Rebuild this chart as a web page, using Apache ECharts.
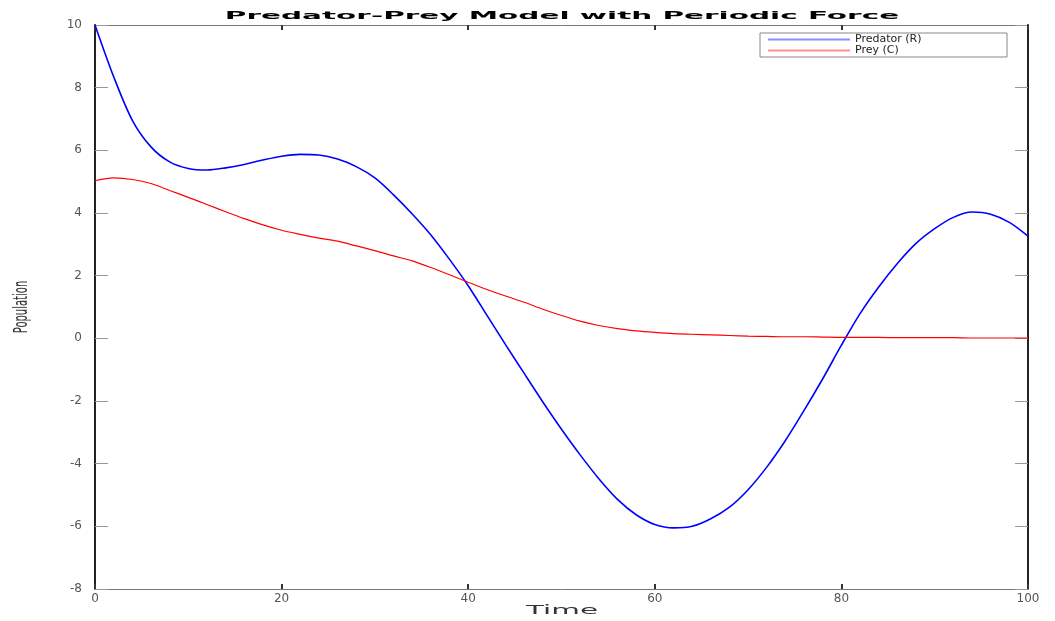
<!DOCTYPE html>
<html>
<head>
<meta charset="utf-8">
<script src="https://cdn.jsdelivr.net/npm/echarts@6/dist/echarts.min.js"></script>
<style>
html,body{margin:0;padding:0;background:#fff;}
#chart{width:1055px;height:621px;}
</style>
</head>
<body>
<div id="chart"></div>
<script>
const titleText = 'Predator-Prey Model with Periodic Force';
const xName = 'Time';
const yName = 'Population';
const seriesNames = ['Predator (R)', 'Prey (C)'];
const xTicks = [0, 20, 40, 60, 80, 100];
const yTicks = [-8, -6, -4, -2, 0, 2, 4, 6, 8, 10];

const time = [0,2,4,6,8,10,12,14,16,18,20,22,24,26,28,30,32,34,36,38,40,42,44,46,48,50,52,54,56,58,60,62,64,66,68,70,72,74,76,78,80,82,84,86,88,90,92,94,96,98,100];

const predator = [10,8.35,6.96,6.11,5.63,5.42,5.37,5.44,5.55,5.69,5.81,5.87,5.85,5.72,5.48,5.12,4.58,3.97,3.3,2.52,1.68,0.74,-0.2,-1.12,-2.03,-2.9,-3.72,-4.48,-5.14,-5.63,-5.94,-6.05,-6.0,-5.76,-5.39,-4.83,-4.11,-3.26,-2.3,-1.29,-0.22,0.79,1.64,2.39,3.03,3.5,3.86,4.03,3.96,3.7,3.26];

const prey = [5.03,5.12,5.07,4.94,4.72,4.5,4.27,4.04,3.82,3.62,3.45,3.32,3.2,3.1,2.95,2.8,2.63,2.47,2.26,2.03,1.79,1.56,1.35,1.15,0.93,0.73,0.55,0.41,0.31,0.24,0.19,0.15,0.13,0.11,0.09,0.07,0.06,0.05,0.05,0.04,0.03,0.03,0.03,0.02,0.02,0.02,0.02,0.01,0.01,0.01,0.01];

const chart = echarts.init(document.getElementById('chart'), null, {renderer: 'canvas'});

const grid = {left: 95, right: 27, top: 25, bottom: 32};
const labelFont = {fontFamily: 'DejaVu Sans', fontSize: 12, color: '#555'};

const xBase = {
  type: 'value', min: xTicks[0], max: xTicks[xTicks.length - 1], interval: 20,
  splitLine: {show: false}
};
const yBase = {
  type: 'value', min: yTicks[0], max: yTicks[yTicks.length - 1], interval: 2,
  splitLine: {show: false}
};

chart.setOption({
  animation: false,
  backgroundColor: '#fff',
  grid: grid,
  legend: {
    right: 48, top: 33, orient: 'vertical',
    itemWidth: 82, itemHeight: 2, itemGap: 0,
    padding: [1, 8, 1, 8],
    borderColor: '#888', borderWidth: 1,
    icon: 'rect',
    textStyle: {fontFamily: 'DejaVu Sans', fontSize: 11, color: '#222', lineHeight: 10, width: 144},
    data: [
      {name: seriesNames[0], itemStyle: {color: '#8c8cff'}},
      {name: seriesNames[1], itemStyle: {color: '#ff9090'}}
    ]
  },
  xAxis: [
    Object.assign({}, xBase, {
      position: 'bottom',
      axisLine: {onZero: false, lineStyle: {color: '#777', width: 1}},
      axisTick: {inside: true, length: 5, lineStyle: {color: '#333', width: 2}},
      axisLabel: Object.assign({margin: 4}, labelFont)
    }),
    Object.assign({}, xBase, {
      position: 'top',
      axisLine: {onZero: false, lineStyle: {color: '#777', width: 1}},
      axisTick: {inside: true, length: 5, lineStyle: {color: '#333', width: 2}},
      axisLabel: {show: false}
    })
  ],
  yAxis: [
    Object.assign({}, yBase, {
      position: 'left',
      axisLine: {onZero: false, lineStyle: {color: '#222', width: 2}},
      axisTick: {inside: true, length: 13, lineStyle: {color: '#999', width: 1}},
      axisLabel: Object.assign({margin: 13}, labelFont)
    }),
    Object.assign({}, yBase, {
      position: 'right',
      axisLine: {onZero: false, lineStyle: {color: '#222', width: 2}},
      axisTick: {inside: true, length: 13, lineStyle: {color: '#999', width: 1}},
      axisLabel: {show: false}
    })
  ],
  graphic: [
    {type: 'text', x: 562, y: 16, scaleX: 2.68, z: 100,
     style: {text: titleText, font: 'bold 11px "DejaVu Sans"', fill: '#000', textAlign: 'center', textVerticalAlign: 'middle'}},
    {type: 'text', x: 562, y: 611, scaleX: 2.45, z: 100,
     style: {text: xName, font: '12px "DejaVu Sans"', fill: '#333', textAlign: 'center', textVerticalAlign: 'middle'}},
    {type: 'text', x: 22, y: 307, rotation: Math.PI / 2, scaleY: 2.0, z: 100,
     style: {text: yName, font: '10px "DejaVu Sans"', fill: '#333', textAlign: 'center', textVerticalAlign: 'middle'}}
  ],
  series: [
    {
      name: seriesNames[0], type: 'line', xAxisIndex: 0, yAxisIndex: 0,
      data: time.map((t, i) => [t, predator[i]]),
      showSymbol: false, smooth: 0.3,
      lineStyle: {color: '#0000ff', width: 1.6},
      itemStyle: {color: '#0000ff'}
    },
    {
      name: seriesNames[1], type: 'line', xAxisIndex: 0, yAxisIndex: 0,
      data: time.map((t, i) => [t, prey[i]]),
      showSymbol: false, smooth: 0.3,
      lineStyle: {color: '#ff0000', width: 1.2},
      itemStyle: {color: '#ff0000'}
    }
  ]
});
</script>
</body>
</html>
